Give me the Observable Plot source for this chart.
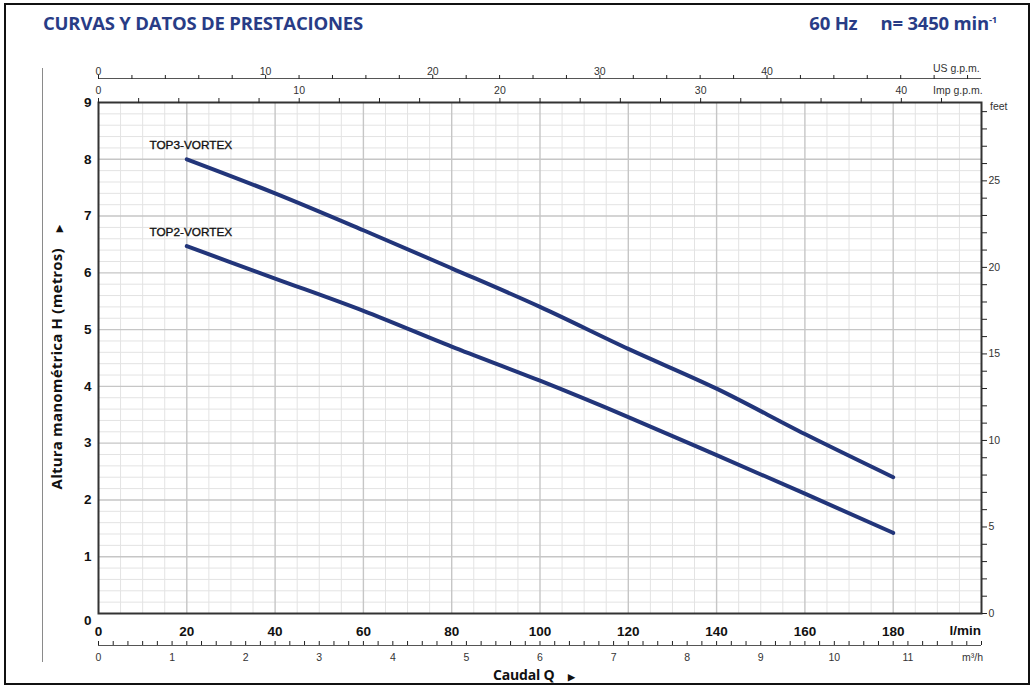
<!DOCTYPE html>
<html><head><meta charset="utf-8">
<script src="https://cdn.jsdelivr.net/npm/d3@7"></script>
<script src="https://cdn.jsdelivr.net/npm/@observablehq/plot@0.6"></script>
<style>
body{margin:0;background:#fff;}
#wrap{position:relative;width:1034px;height:687px;overflow:hidden;background:#fff;font-family:"Liberation Sans",Arial,sans-serif;}
#chart{position:absolute;left:0;top:0;}
.t{position:absolute;white-space:pre;line-height:20px;height:20px;}
.head{font-family:"Open Sans",sans-serif;font-weight:700;color:#283c86;font-size:18.5px;letter-spacing:-0.2px;}
.small{font-size:10.5px;color:#333;}
.bold{font-weight:700;color:#111;}
#border{position:absolute;left:4px;top:3px;width:1022px;height:678px;border:2px solid #111;}
#vline{position:absolute;left:42px;top:68px;width:1px;height:594px;background:#8a8a8a;}
#ylab{position:absolute;left:-84px;top:347px;width:280px;height:20px;line-height:20px;text-align:center;transform:rotate(-90deg);font-weight:700;font-size:15px;color:#111;white-space:pre;font-family:"Open Sans",sans-serif;letter-spacing:0.2px;}
</style></head><body>
<div id="wrap">
  <div id="chart"></div>
  <div id="border"></div>
  <div id="vline"></div>
  <div class="t head" style="left:43px;top:13px;">CURVAS Y DATOS DE PRESTACIONES</div>
  <div class="t head" style="right:37px;top:13px;">60 Hz     n= 3450 min<span style="font-size:9.5px;position:relative;top:-7px;">-1</span></div>
  <div class="t small" style="left:933px;top:58px;">US g.p.m.</div>
  <div class="t small" style="left:933px;top:80px;">Imp g.p.m.</div>
  <div class="t small" style="left:990px;top:96px;">feet</div>
  <div class="t bold" style="right:53px;top:621px;font-size:13.5px;">l/min</div>
  <div class="t small" style="right:51px;top:647px;">m³/h</div>
  <div class="t bold" style="left:493px;top:665px;font-size:14px;font-family:'Open Sans',sans-serif;letter-spacing:-0.2px;">Caudal Q    <span style="font-size:9px;">▶</span></div>
  <div id="ylab">Altura manométrica H (metros)    <span style="font-size:9px;">▶</span></div>
</div>
<script>
// ---- data ----
const flowLmin = [20, 40, 60, 80, 100, 120, 140, 160, 180];
const headTop3 = [8.00, 7.40, 6.75, 6.08, 5.40, 4.66, 3.96, 3.16, 2.40];
const headTop2 = [6.47, 5.90, 5.33, 4.70, 4.10, 3.46, 2.79, 2.11, 1.42];
const curveNames = ["TOP3-VORTEX", "TOP2-VORTEX"];

// ---- tick values ----
const xTickValues = [0, 20, 40, 60, 80, 100, 120, 140, 160, 180];
const yTickValues = [1, 2, 3, 4, 5, 6, 7, 8, 9];
const feetTickValues = d3.range(0, 30, 1);
const feetLabelValues = [0, 5, 10, 15, 20, 25];
const usGpmTickValues = d3.range(0, 53, 2);
const usGpmLabelValues = [0, 10, 20, 30, 40];
const impGpmTickValues = d3.range(0, 43, 2);
const impGpmLabelValues = [0, 10, 20, 30, 40];
const m3hTickValues = d3.range(0, 61, 1).map(i => i / 5);
const m3hLabelValues = [0, 1, 2, 3, 4, 5, 6, 7, 8, 9, 10, 11];

// unit conversions
const L_PER_USGAL = 3.785411784, L_PER_IMPGAL = 4.54609, M_PER_FT = 0.3048, LMIN_PER_M3H = 1000 / 60;

const table = flowLmin.flatMap((q, i) => [
  {model: curveNames[0], q, h: headTop3[i]},
  {model: curveNames[1], q, h: headTop2[i]}
]);
const starts = [
  {model: curveNames[0], q: flowLmin[0], h: headTop3[0]},
  {model: curveNames[1], q: flowLmin[0], h: headTop2[0]}
];

const minorX = d3.range(5, 200, 5).filter(v => v % 20 !== 0);
const majorX = d3.range(20, 200, 20);
const minorY = d3.range(1, 45).map(i => i / 5).filter(v => Math.abs(v - Math.round(v)) > 1e-6);
const majorY = d3.range(1, 9);

const navy = "#22357a";
const smallFont = {fontSize: 10.5, fill: "#333"};
const tickStyle = {stroke: "#222", strokeWidth: 1};

const chart = Plot.plot({
  width: 1034, height: 687,
  marginLeft: 98, marginRight: 53, marginTop: 102, marginBottom: 74,
  x: {domain: [0, 200], axis: null},
  y: {domain: [0, 9], axis: null},
  style: {fontFamily: "Liberation Sans, Arial, sans-serif", fontSize: "11px", color: "#222", background: "transparent", overflow: "visible"},
  marks: [
    Plot.gridX(minorX, {stroke: "#e3e3e3", strokeOpacity: 1}),
    Plot.gridY(minorY, {stroke: "#e3e3e3", strokeOpacity: 1}),
    Plot.gridX(majorX, {stroke: "#c6c6c6", strokeOpacity: 1, strokeWidth: 1.4}),
    Plot.gridY(majorY, {stroke: "#c6c6c6", strokeOpacity: 1, strokeWidth: 1.4}),
    Plot.frame({stroke: "#333", strokeWidth: 2}),
    Plot.line(table, {x: "q", y: "h", z: "model", stroke: navy, strokeWidth: 4, curve: "monotone-x"}),
    Plot.text(starts, {x: "q", y: "h", text: "model", dx: 4, dy: -14, fontFamily: "Liberation Sans, Arial", fontSize: 11.8, fill: "#111", stroke: "#111", strokeWidth: 0.35}),
    // left axis (metres)
    Plot.axisY(yTickValues, {anchor: "left", tickSize: 0, tickPadding: 7, tickFormat: d => String(d), fontSize: 13.5, fontWeight: "bold", fill: "#111", label: null}),
    Plot.axisY([0], {anchor: "left", tickSize: 0, tickPadding: 7, dy: 7, tickFormat: d => String(d), fontSize: 13.5, fontWeight: "bold", fill: "#111", label: null}),
    // bottom axis (l/min)
    Plot.axisX(xTickValues, {anchor: "bottom", tickSize: 0, tickPadding: 13, tickFormat: d => String(d), fontSize: 13.5, fontWeight: "bold", fill: "#111", label: null}),
    // m3/h axis
    Plot.ruleY([0], {x1: 0, x2: 200, dy: 32, stroke: "#555", strokeWidth: 1}),
    Plot.axisX(m3hTickValues.map(v => v * LMIN_PER_M3H), {anchor: "bottom", tickSize: 4, dy: 28, ...tickStyle, tickFormat: () => "", label: null}),
    Plot.axisX(m3hLabelValues.map(v => v * LMIN_PER_M3H), {anchor: "bottom", tickSize: 0, tickPadding: 40, tickFormat: (d, i) => String(m3hLabelValues[i]), ...smallFont, label: null}),
    // Imp gpm axis on top of frame
    Plot.axisX(impGpmTickValues.map(v => v * L_PER_IMPGAL), {anchor: "top", tickSize: 5, ...tickStyle, tickFormat: () => "", label: null}),
    Plot.axisX(impGpmLabelValues.map(v => v * L_PER_IMPGAL), {anchor: "top", tickSize: 0, tickPadding: 9, tickFormat: (d, i) => String(impGpmLabelValues[i]), ...smallFont, label: null}),
    // US gpm axis
    Plot.ruleY([9], {x1: 0, x2: 200, dy: -24, stroke: "#555", strokeWidth: 1}),
    Plot.axisX(usGpmTickValues.map(v => v * L_PER_USGAL), {anchor: "top", tickSize: 4, dy: -24, ...tickStyle, tickFormat: () => "", label: null}),
    Plot.axisX(usGpmLabelValues.map(v => v * L_PER_USGAL), {anchor: "top", tickSize: 0, dy: -24, tickPadding: 4, tickFormat: (d, i) => String(usGpmLabelValues[i]), ...smallFont, label: null}),
    // right axis (feet)
    Plot.axisY(feetTickValues.map(v => v * M_PER_FT), {anchor: "right", tickSize: 5, ...tickStyle, tickFormat: () => "", label: null}),
    Plot.axisY(feetLabelValues.map(v => v * M_PER_FT), {anchor: "right", tickSize: 0, tickPadding: 7, tickFormat: (d, i) => String(feetLabelValues[i]), ...smallFont, label: null})
  ]
});
document.getElementById("chart").appendChild(chart);
</script>
</body></html>
